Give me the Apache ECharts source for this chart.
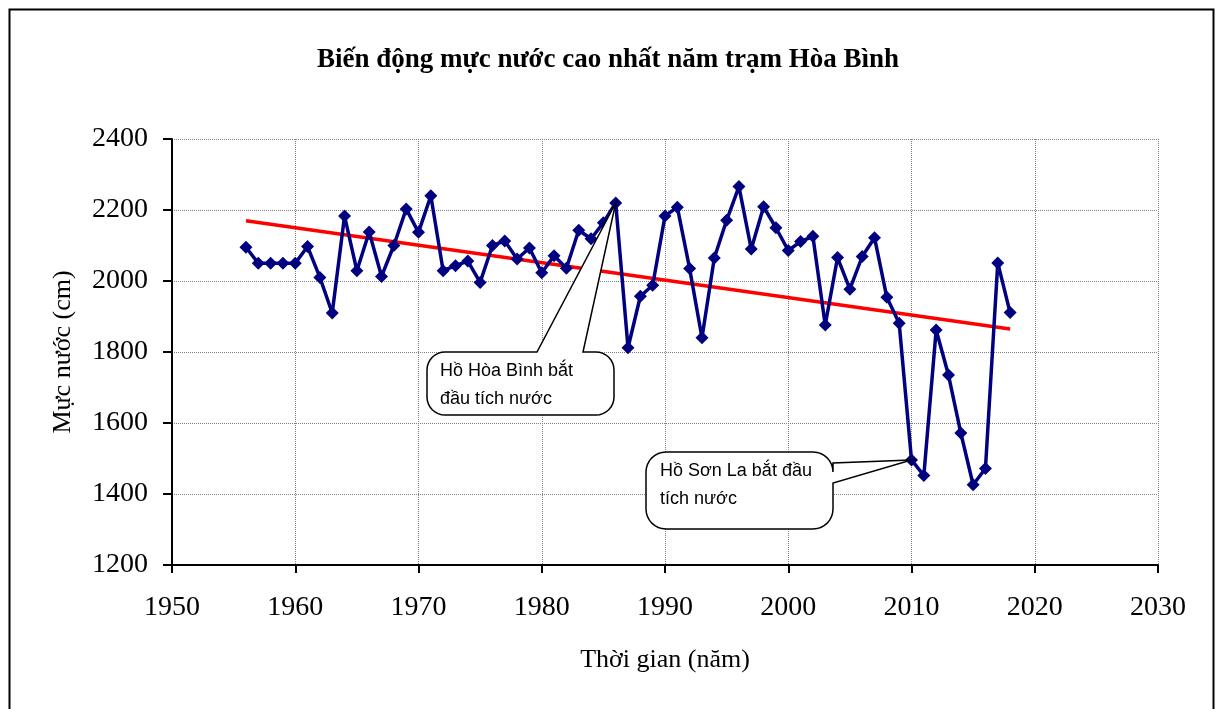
<!DOCTYPE html>
<html>
<head>
<meta charset="utf-8">
<script src="https://cdn.jsdelivr.net/npm/echarts@6/dist/echarts.min.js"></script>
<style>
  html, body { margin: 0; padding: 0; background: #ffffff; }
  #chart { width: 1216px; height: 709px; }
</style>
</head>
<body>
<div id="chart"></div>
<script>
// Annual maximum water level at Hoa Binh station (cm)
const years = [
  1956, 1957, 1958, 1959, 1960, 1961, 1962, 1963, 1964, 1965,
  1966, 1967, 1968, 1969, 1970, 1971, 1972, 1973, 1974, 1975,
  1976, 1977, 1978, 1979, 1980, 1981, 1982, 1983, 1984, 1985,
  1986, 1987, 1988, 1989, 1990, 1991, 1992, 1993, 1994, 1995,
  1996, 1997, 1998, 1999, 2000, 2001, 2002, 2003, 2004, 2005,
  2006, 2007, 2008, 2009, 2010, 2011, 2012, 2013, 2014, 2015,
  2016, 2017, 2018
];
const maxLevel = [
  2095, 2050, 2050, 2050, 2050, 2097, 2010, 1910, 2183, 2029,
  2138, 2013, 2100, 2203, 2137, 2240, 2029, 2043, 2056, 1996,
  2100, 2113, 2062, 2093, 2023, 2071, 2036, 2143, 2119, 2164,
  2220, 1812, 1957, 1988, 2183, 2208, 2035, 1840, 2065, 2171,
  2266, 2090, 2209, 2150, 2086, 2111, 2126, 1876, 2066, 1977,
  2069, 2122, 1954, 1881, 1496, 1452, 1862, 1735, 1572, 1426,
  1472, 2051, 1911
];

// Linear trend line end points
const trendYears = [1956, 2018];
const trendValues = [2170, 1865];

// Axis settings
const xTicks = { min: 1950, max: 2030, step: 10 };
const yTicks = { min: 1200, max: 2400, step: 200 };

// Texts
const titleText = 'Biến động mực nước cao nhất năm trạm Hòa Bình';
const xName = 'Thời gian (năm)';
const yName = 'Mực nước (cm)';
const notes = [
  { year: 1986, lines: ['Hồ Hòa Bình bắt', 'đầu tích nước'] },
  { year: 2010, lines: ['Hồ Sơn La bắt đầu', 'tích nước'] }
];

const serif = "'Liberation Serif', 'Times New Roman', serif";
const sans = "'Liberation Sans', Arial, sans-serif";

const chart = echarts.init(document.getElementById('chart'), null, { renderer: 'canvas' });

const gridLine = { show: true, lineStyle: { color: '#808080', type: [1, 1], width: 1 } };
const axisLabel = { color: '#000', fontFamily: serif, fontSize: 28, formatter: v => String(v) };

chart.setOption({
  animation: false,
  backgroundColor: '#ffffff',
  title: {
    text: titleText,
    left: 'center',
    top: 42,
    textStyle: { fontFamily: serif, fontWeight: 'bold', fontSize: 27, color: '#000' }
  },
  grid: { left: 172, right: 58, top: 139, bottom: 144, containLabel: false },
  xAxis: {
    type: 'value',
    min: xTicks.min, max: xTicks.max, interval: xTicks.step,
    name: xName, nameLocation: 'middle', nameGap: 82,
    nameTextStyle: { fontFamily: serif, fontSize: 26, color: '#000' },
    axisLine: { show: true, onZero: false, lineStyle: { color: '#000', width: 2 } },
    axisTick: { show: true, inside: false, length: 8, lineStyle: { color: '#000', width: 2 } },
    axisLabel: Object.assign({ margin: 29 }, axisLabel),
    splitLine: gridLine
  },
  yAxis: {
    type: 'value',
    min: yTicks.min, max: yTicks.max, interval: yTicks.step,
    name: yName, nameLocation: 'middle', nameGap: 96,
    nameTextStyle: { fontFamily: serif, fontSize: 26, color: '#000' },
    axisLine: { show: true, lineStyle: { color: '#000', width: 2 } },
    axisTick: { show: true, inside: false, length: 9, lineStyle: { color: '#000', width: 2 } },
    axisLabel: Object.assign({ margin: 24 }, axisLabel),
    splitLine: gridLine
  },
  series: [
    {
      name: 'trend',
      type: 'line',
      data: trendYears.map((y, i) => [y, trendValues[i]]),
      symbol: 'none',
      lineStyle: { color: '#ff0000', width: 3.5 },
      z: 3
    },
    {
      name: 'level',
      type: 'line',
      data: years.map((y, i) => [y, maxLevel[i]]),
      symbol: 'diamond',
      symbolSize: 13,
      lineStyle: { color: '#000080', width: 3.5 },
      itemStyle: { color: '#000080' },
      z: 4
    }
  ]
});

// Rounded box outline with a wedge pointing to a data point
function arcPts(cx, cy, r, a0, a1) {
  const pts = [];
  const n = 8;
  for (let k = 0; k <= n; k++) {
    const a = a0 + (a1 - a0) * k / n;
    pts.push([cx + r * Math.cos(a), cy + r * Math.sin(a)]);
  }
  return pts;
}
function calloutPoints(box, tip, side, a1, a2) {
  const { x0, y0, x1, y1, r } = box;
  const P = Math.PI;
  let pts = [];
  pts = pts.concat(arcPts(x0 + r, y0 + r, r, P, 1.5 * P));
  if (side === 'top') { pts.push([a1, y0], [tip[0], tip[1]], [a2, y0]); }
  pts = pts.concat(arcPts(x1 - r, y0 + r, r, 1.5 * P, 2 * P));
  if (side === 'right') { pts.push([x1, a1], [tip[0], tip[1]], [x1, a2]); }
  pts = pts.concat(arcPts(x1 - r, y1 - r, r, 0, 0.5 * P));
  pts = pts.concat(arcPts(x0 + r, y1 - r, r, 0.5 * P, P));
  return pts;
}

const layouts = [
  { box: { x0: 427, y0: 352, x1: 614, y1: 415, r: 18 }, side: 'top', a1: 537, a2: 583, tx: 440, ty: 357 },
  { box: { x0: 646, y0: 452, x1: 833, y1: 529, r: 20 }, side: 'right', a1: 463, a2: 483, tx: 660, ty: 457 }
];

const graphics = [
  {
    type: 'rect', left: 7, top: 7, silent: true, z: 200,
    shape: { width: 1204, height: 730 },
    style: { fill: 'none', stroke: '#000', lineWidth: 2 }
  }
];
notes.forEach((n, i) => {
  const idx = years.indexOf(n.year);
  const tip = chart.convertToPixel({ gridIndex: 0 }, [years[idx], maxLevel[idx]]);
  const L = layouts[i];
  graphics.push({
    type: 'polygon', silent: true, z: 100,
    shape: { points: calloutPoints(L.box, tip, L.side, L.a1, L.a2) },
    style: { fill: '#ffffff', stroke: '#000', lineWidth: 1.5 }
  });
  graphics.push({
    type: 'text', silent: true, z: 101, left: L.tx, top: L.ty,
    style: {
      text: n.lines.join('\n'),
      font: '18px ' + sans,
      fill: '#000',
      lineHeight: 28
    }
  });
});
chart.setOption({ graphic: graphics });
</script>
</body>
</html>
